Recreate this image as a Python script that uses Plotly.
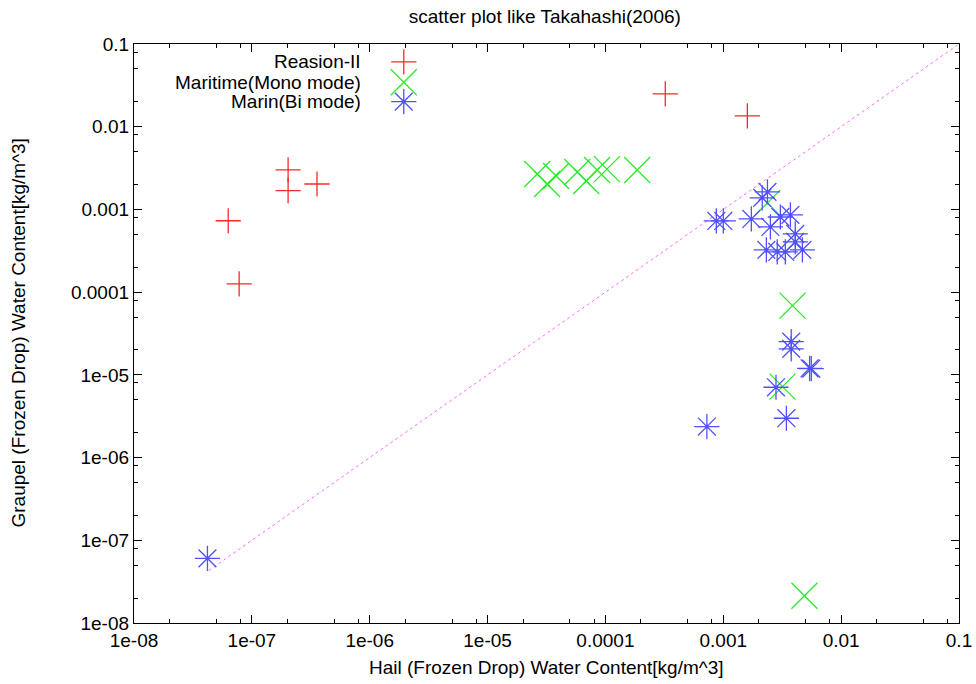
import plotly.graph_objects as go

# ---- data ----
reasion_x = [6.3e-8, 7.8e-8, 2.03e-7, 2.03e-7, 3.57e-7, 3.22e-4, 1.6e-3]
reasion_y = [7.3e-4, 1.26e-4, 3.0e-3, 1.69e-3, 2.03e-3, 0.0249, 0.0135]

mono_x = [2.64e-5, 3.2e-5, 3.82e-5, 5.77e-5, 6.87e-5, 8.5e-5, 1.03e-4, 1.86e-4,
          2.37e-3, 3.87e-3, 3.18e-3, 4.88e-3]
mono_y = [2.68e-3, 2.03e-3, 2.54e-3, 2.84e-3, 2.21e-3, 3.0e-3, 3.07e-3, 3.0e-3,
          1.2e-3, 6.87e-5, 7.2e-6, 2.14e-8]

bi_x = [4.2e-8, 7.26e-4, 3.43e-3, 2.8e-3, 3.77e-3, 3.77e-3, 5.4e-3, 5.58e-3,
        8.73e-4, 1.0e-3, 1.73e-3, 2.37e-3, 2.14e-3, 3.05e-3, 3.71e-3, 2.51e-3,
        4.08e-3, 4.08e-3, 4.69e-3, 3.36e-3, 2.87e-3, 2.32e-3]
bi_y = [6.05e-8, 2.37e-6, 2.99e-6, 7.08e-6, 2.52e-5, 2.06e-5, 1.2e-5, 1.19e-5,
        7.26e-4, 7.26e-4, 7.67e-4, 1.63e-3, 1.38e-3, 8.1e-4, 8.6e-4, 6.14e-4,
        5.06e-4, 4.05e-4, 3.24e-4, 3.06e-4, 3.06e-4, 3.24e-4]

diag_x = [4.3e-8, 0.1]
diag_y = [4.3e-8, 0.1]

tick_vals = [1e-8, 1e-7, 1e-6, 1e-5, 1e-4, 1e-3, 1e-2, 1e-1]
tick_text = ["1e-08", "1e-07", "1e-06", "1e-05", "0.0001", "0.001", "0.01", "0.1"]
minor_vals = [m * d for d in tick_vals[:-1] for m in (2, 5, 8)]

series_names = ["Reasion-II", "Maritime(Mono mode)", "Marin(Bi mode)"]
title_text = "scatter plot like Takahashi(2006)"
x_title = "Hail (Frozen Drop) Water Content[kg/m^3]"
y_title = "Graupel (Frozen Drop) Water Content[kg/m^3]"

# ---- styles ----
RED = "rgb(255,40,40)"
GREEN = "rgb(40,235,40)"
BLUE = "rgb(80,80,255)"
MAG = "rgb(255,110,255)"
FONT = "Liberation Sans, Arial, sans-serif"
FS = 19

fig = go.Figure()

fig.add_trace(go.Scatter(
    x=diag_x, y=diag_y, mode="lines",
    line=dict(color=MAG, width=1, dash="dot"), showlegend=False, hoverinfo="skip"))

fig.add_trace(go.Scatter(
    x=reasion_x, y=reasion_y, mode="markers", name=series_names[0],
    marker=dict(symbol="cross-thin", size=18, color=RED, line=dict(color=RED, width=1.3)),
    showlegend=False))
fig.add_trace(go.Scatter(
    x=mono_x, y=mono_y, mode="markers", name=series_names[1],
    marker=dict(symbol="x-thin", size=26, color=GREEN, line=dict(color=GREEN, width=1.3)),
    showlegend=False))
fig.add_trace(go.Scatter(
    x=bi_x, y=bi_y, mode="markers", name=series_names[2],
    marker=dict(symbol="asterisk", size=21, color=BLUE, line=dict(color=BLUE, width=1.3)),
    showlegend=False))

# ---- custom gnuplot-style legend (key) on an overlay axis ----
key_rows = [0.969, 0.934, 0.9005]
key_syms = [("cross-thin", 18, RED), ("x-thin", 26, GREEN), ("asterisk", 21, BLUE)]
for name, row, (sym, sz, col) in zip(series_names, key_rows, key_syms):
    fig.add_trace(go.Scatter(
        x=[0.327], y=[row], xaxis="x2", yaxis="y2", mode="markers",
        marker=dict(symbol=sym, size=sz, color=col, line=dict(color=col, width=1.3)),
        showlegend=False, hoverinfo="skip"))
    fig.add_annotation(x=0.278, y=row, xref="paper", yref="paper", text=name,
                       showarrow=False, xanchor="right", yanchor="middle",
                       font=dict(size=FS, color="black", family=FONT))

# axis titles as annotations (gnuplot placement)
fig.add_annotation(x=0.5, y=-0.076, xref="paper", yref="paper", text=x_title,
                   showarrow=False, xanchor="center", yanchor="middle",
                   font=dict(size=FS, color="black", family=FONT))
fig.add_annotation(x=-0.1406, y=0.5, xref="paper", yref="paper", text=y_title,
                   textangle=-90, showarrow=False, xanchor="center", yanchor="middle",
                   font=dict(size=FS, color="black", family=FONT))

axis_common = dict(
    type="log", range=[-8, -1], showgrid=False, zeroline=False, automargin=False,
    showline=True, linecolor="black", linewidth=1.3, mirror="ticks",
    ticks="inside", ticklen=8, tickwidth=1.2, tickcolor="black",
    tickvals=tick_vals, ticktext=tick_text,
    tickfont=dict(size=FS, color="black", family=FONT),
    minor=dict(ticks="inside", ticklen=4, tickwidth=1.2, tickcolor="black",
               tickvals=minor_vals, showgrid=False),
)

fig.update_layout(
    width=976, height=684,
    margin=dict(l=134, r=17, t=44, b=61, autoexpand=False),
    paper_bgcolor="white", plot_bgcolor="white",
    font=dict(family=FONT, color="black"),
    title=dict(text=title_text, x=0.498, xanchor="center", xref="paper",
               y=0.9756, yref="container", yanchor="middle",
               font=dict(size=FS, family=FONT, color="black")),
    xaxis=dict(**axis_common),
    yaxis=dict(**axis_common),
    xaxis2=dict(overlaying="x", range=[0, 1], visible=False),
    yaxis2=dict(overlaying="y", range=[0, 1], visible=False),
    showlegend=False,
)

fig.write_html("out.html")
